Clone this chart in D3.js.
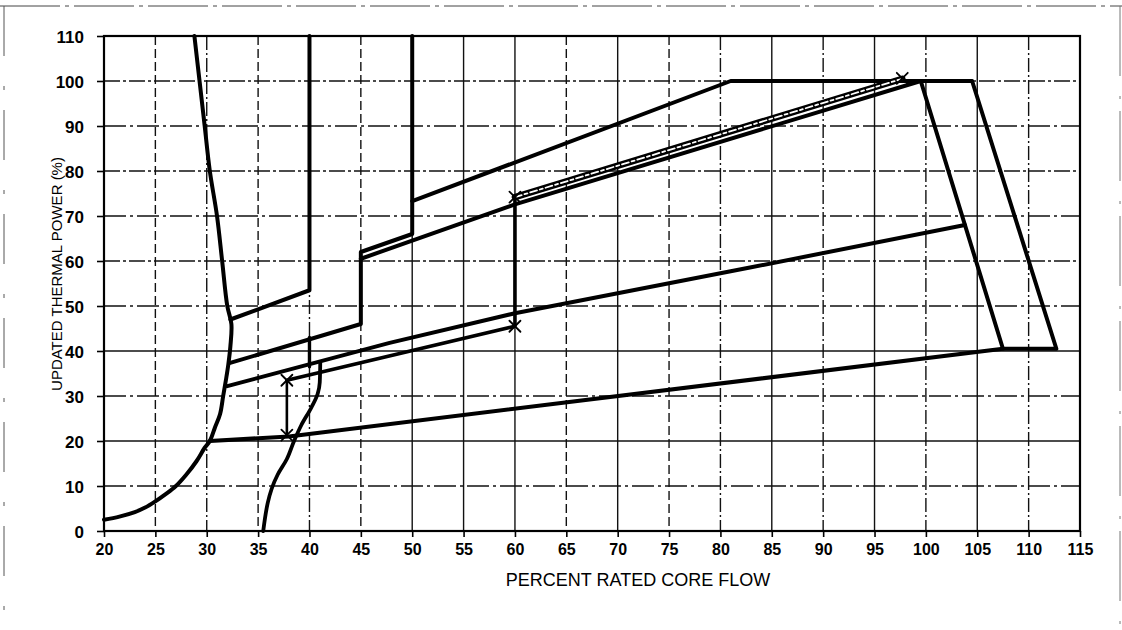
<!DOCTYPE html>
<html>
<head>
<meta charset="utf-8">
<script src="https://cdn.jsdelivr.net/npm/d3@7"></script>
<style>
	html, body { margin: 0; padding: 0; background: #fff; }
	svg { display: block; font-family: "Liberation Sans", Arial, sans-serif; }
</style>
</head>
<body>
<svg id="chart" width="1122" height="630"></svg>
<script>
// tick labels
const xTicks = [20, 25, 30, 35, 40, 45, 50, 55, 60, 65, 70, 75, 80, 85, 90, 95, 100, 105, 110, 115];
const yTicks = [0, 10, 20, 30, 40, 50, 60, 70, 80, 90, 100, 110];

// boundary lines (core flow %, thermal power %)
const leftBoundary = [[20, 2.5], [21.5, 3.2], [23, 4.2], [24, 5.2], [25, 6.6], [26, 8.2], [27, 10], [28, 12.5], [29, 15.5], [29.8, 18.5], [30.3, 20], [30.8, 23], [31.3, 26], [31.6, 30], [31.9, 34], [32.1, 37], [32.3, 41], [32.4, 46], [32, 50], [31.5, 60], [31, 70], [30.3, 80], [29.8, 90], [29.3, 100], [28.8, 110]];
const pumpCurve = [[35.5, 0], [36.9, 12.5], [37.8, 16], [38.5, 20], [39.2, 23.5], [40.2, 27.5], [40.8, 30.5], [41, 33], [41.05, 37.5]];
const minFlowLine = [[30.3, 20], [38, 21], [107.5, 40.5]];
const stepLine1 = [[32.3, 47], [40, 53.5], [40, 110]];
const stepLine2 = [[32.2, 37.3], [45, 46], [45, 62], [50, 66], [50, 110]];
const stepLine3 = [[32, 32.2], [47.8, 41.8], [60, 48.4], [83, 58.6], [103.8, 68]];
const rodLine = [[45, 60.5], [60, 72.6], [99.5, 100]];
const upperLine = [[50, 73.3], [81, 100], [104.5, 100], [112.7, 40.5], [107.5, 40.5], [99.5, 100]];
const shortMark = [[40, 36.5], [40, 43]];
const pathRise = [[37.8, 21], [37.8, 33.5]];
const pathLow = [[37.8, 33.5], [60, 45.5], [60, 74.2]];
const pathHigh = [[60, 74.2], [97.7, 100.5]];
const pathPoints = [[37.8, 33.5], [60, 45.5], [60, 74.2], [97.7, 100.6], [37.8, 21.3]];

// grid line styles
const solidX = [50, 55, 60, 70, 85, 95, 105];
const solidY = [20, 40];

const svg = d3.select("#chart");
const W = 1122, H = 630;
const margin = { left: 104, right: 1080, top: 36, bottom: 531 };

const x = d3.scaleLinear().domain([20, 115]).range([margin.left, margin.right]);
const y = d3.scaleLinear().domain([0, 110]).range([margin.bottom, margin.top]);

// faint scan frame
svg.append("line").attr("x1", 0).attr("x2", W).attr("y1", 6).attr("y2", 6)
	.attr("stroke", "#444").attr("stroke-width", 1).attr("stroke-dasharray", "60,5,4,5");
svg.append("line").attr("x1", 4).attr("x2", 4).attr("y1", 6).attr("y2", H)
	.attr("stroke", "#555").attr("stroke-width", 1).attr("stroke-dasharray", "50,30,4,20");
svg.append("line").attr("x1", 1120).attr("x2", 1120).attr("y1", 6).attr("y2", H)
	.attr("stroke", "#777").attr("stroke-width", 1).attr("stroke-dasharray", "70,20,3,12");

// grid
const grid = svg.append("g").attr("class", "grid");
grid.selectAll("line.vx").data(xTicks.slice(1, -1)).enter().append("line")
	.attr("class", "vx")
	.attr("x1", d => x(d)).attr("x2", d => x(d))
	.attr("y1", y(110)).attr("y2", y(0))
	.attr("stroke", "#111").attr("stroke-width", 1.4)
	.attr("stroke-dasharray", d => solidX.includes(d) ? null : (d % 10 === 0 ? "14,3,2,3" : "9,4"));
grid.selectAll("line.hy").data(yTicks.slice(1, -1)).enter().append("line")
	.attr("class", "hy")
	.attr("x1", x(20)).attr("x2", x(115))
	.attr("y1", d => y(d)).attr("y2", d => y(d))
	.attr("stroke", "#111").attr("stroke-width", 1.4)
	.attr("stroke-dasharray", d => solidY.includes(d) ? null : (d % 20 === 0 ? "16,3,3,3" : "22,4,3,4"));

// axes
const xAxis = svg.append("g")
	.attr("transform", `translate(0,${margin.bottom})`)
	.call(d3.axisBottom(x).tickValues(xTicks).tickSize(6).tickSizeOuter(0));
const yAxis = svg.append("g")
	.attr("transform", `translate(${margin.left},0)`)
	.call(d3.axisLeft(y).tickValues(yTicks).tickSize(7).tickSizeOuter(0));

[xAxis, yAxis].forEach(a => {
	a.select(".domain").remove();
	a.selectAll(".tick line").attr("stroke", "#000").attr("stroke-width", 1.6);
	a.selectAll(".tick text").attr("fill", "#000").attr("font-weight", "bold")
		.attr("font-family", "'Liberation Sans', Arial, sans-serif");
});
xAxis.selectAll(".tick text").attr("font-size", 16).attr("dy", "0.95em");
yAxis.selectAll(".tick text").attr("font-size", 17).attr("x", -20).attr("dy", "0.36em");

// plot frame
svg.append("rect")
	.attr("x", x(20)).attr("y", y(110))
	.attr("width", x(115) - x(20)).attr("height", y(0) - y(110))
	.attr("fill", "none").attr("stroke", "#000").attr("stroke-width", 2.2);

// titles
svg.append("text")
	.attr("x", 638).attr("y", 586)
	.attr("text-anchor", "middle").attr("font-size", 18)
	.text("PERCENT RATED CORE FLOW");
svg.append("text")
	.attr("transform", "translate(62,274) rotate(-90)")
	.attr("text-anchor", "middle").attr("font-size", 15)
	.text("UPDATED THERMAL POWER (%)");

// boundary lines
const line = d3.line().x(d => x(d[0])).y(d => y(d[1]));
const curve = d3.line().x(d => x(d[0])).y(d => y(d[1])).curve(d3.curveMonotoneY);

const plot = svg.append("g").attr("fill", "none").attr("stroke", "#000")
	.attr("stroke-linejoin", "round").attr("stroke-linecap", "round");

plot.append("path").attr("d", d3.line().x(d => x(d[0])).y(d => y(d[1])).curve(d3.curveCatmullRom)(leftBoundary))
	.attr("stroke-width", 4);
plot.append("path").attr("d", curve(pumpCurve)).attr("stroke-width", 3.8);

[minFlowLine, stepLine1, stepLine2, stepLine3, rodLine, upperLine].forEach(s => {
	plot.append("path").attr("d", line(s)).attr("stroke-width", 4);
});
plot.append("path").attr("d", line(shortMark)).attr("stroke-width", 3.4);

// operating path
plot.append("path").attr("d", line(pathRise)).attr("stroke-width", 2.6);
plot.append("path").attr("d", line(pathLow)).attr("stroke-width", 3.6);
plot.append("path").attr("d", line(pathHigh)).attr("stroke-width", 6.5);
plot.append("path").attr("d", line(pathHigh)).attr("stroke", "#fff").attr("stroke-width", 1.8)
	.attr("stroke-dasharray", "7,3,3,3");

// x markers
const s = 5.5;
plot.selectAll("path.mark").data(pathPoints).enter().append("path")
	.attr("class", "mark")
	.attr("d", d => `M${x(d[0]) - s},${y(d[1]) - s}L${x(d[0]) + s},${y(d[1]) + s}M${x(d[0]) - s},${y(d[1]) + s}L${x(d[0]) + s},${y(d[1]) - s}`)
	.attr("stroke-width", 1.8);
</script>
</body>
</html>
